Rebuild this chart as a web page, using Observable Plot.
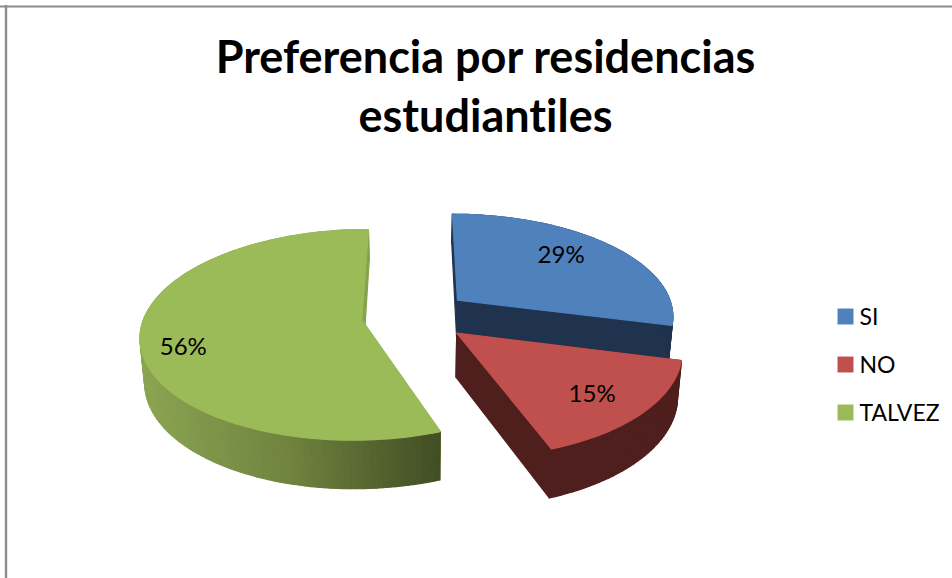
<!DOCTYPE html>
<html><head><meta charset="utf-8">
<script src="https://cdn.jsdelivr.net/npm/d3@7"></script>
<script src="https://cdn.jsdelivr.net/npm/@observablehq/plot@0.6"></script>
<style>html,body{margin:0;padding:0;background:#fff}svg{display:block;font-variant-ligatures:none}</style>
</head><body><div id="chart"></div>
<script>
const categories = ["SI", "NO", "TALVEZ"];
const percentages = [29, 15.4, 55.6];
const topColors = ["#4f81bd", "#c0504d", "#9bbb59"];
const wallColors = ["#1f334e", "#4f1f1e", "#86a24e"];
const titleLines = ["Preferencia por residencias", "estudiantiles"];

// 3D pie view: centre, radii, perspective, explosion
const cx = 415, cy = 315, R = 217, Ry = 102, k = 0.14, explode = 0.25, shrink = 0.017;
const depth = d3.scaleLinear([0.85, 1.02, 1.22], [28, 44, 50]);
const green = d3.scaleLinear([140, 290, 439], ["#8ba552", "#6f823f", "#414d23"]).clamp(true);

const proj = (ex, ey, r, a) => {
  const X = ex + r * Math.sin(a), Y = ey - r * Math.cos(a);
  const p = 1 / (1 - k * Y);
  return {x: cx + R * X * p, y: cy + Ry * Y * p, p};
};
const drop = (q) => ({x: cx + (q.x - cx) * (1 - shrink), y: q.y + depth(q.p)});

const polys = [];
let id = 0;
const add = (pts, color) => {
  id++;
  for (const q of [...pts, pts[0]]) polys.push({id, x: q.x, y: q.y, color});
};
const total = d3.sum(percentages);
let start = 0;
const slices = percentages.map((v, i) => {
  const a0 = start, a1 = start + v / total * 2 * Math.PI;
  start = a1;
  const m = (a0 + a1) / 2;
  return {i, v, a0, a1, m, ex: explode * Math.sin(m), ey: -explode * Math.cos(m)};
});
const drawOrder = [2, 0, 1];
for (const i of drawOrder) {
  const s = slices[i];
  const n = Math.max(4, Math.round((s.a1 - s.a0) / (Math.PI / 120)));
  const angle = j => s.a0 + (s.a1 - s.a0) * j / n;
  const arc = d3.range(n + 1).map(j => proj(s.ex, s.ey, 1, angle(j)));
  const apex = proj(s.ex, s.ey, 0, 0);
  // radial walls
  for (const e of [arc[0], arc[n]]) {
    add([apex, e, drop(e), drop(apex)], wallColors[i]);
  }
  // outer wall, in bands (only the near part of the green wall is shaded)
  for (let j = 0; j < n; j++) {
    const near = i === 2 && angle(j) < 1.6 * Math.PI;
    const c = near ? green((arc[j].x + arc[j + 1].x) / 2) : wallColors[i];
    add([arc[j], arc[j + 1], drop(arc[j + 1]), drop(arc[j])], c);
  }
  // top face
  add([apex, ...arc], topColors[i]);
}

const labelRadius = [0.7, 0.76, 0.8];
const labelNudgeX = [-5, -3, -2];
const labelNudgeY = [-5, 2, 13];
const labels = slices.map(s => {
  const q = proj(s.ex, s.ey, labelRadius[s.i], s.m);
  return {x: q.x + labelNudgeX[s.i], y: q.y + labelNudgeY[s.i], text: Math.round(s.v) + "%"};
});
const legend = categories.map((c, i) => ({name: c, color: topColors[i], y: 316 + 48 * i}));
const titles = titleLines.map((t, i) => ({t, y: 58 + 59 * i}));
const font = "Lato, Carlito, sans-serif";

const chart = Plot.plot({
  width: 952, height: 578, margin: 0,
  x: {domain: [0, 952], range: [0, 952], axis: null},
  y: {domain: [0, 578], range: [0, 578], axis: null},
  color: {type: "identity"},
  style: {background: "#fff", fontFamily: font},
  marks: [
    Plot.ruleY([6], {stroke: "#8c8c8c", strokeWidth: 2}),
    Plot.ruleX([5.5], {y1: 5, y2: 578, stroke: "#8c8c8c", strokeWidth: 2.4}),
    Plot.line(polys, {x: "x", y: "y", z: "id", fill: "color", stroke: "color", strokeWidth: 1.2, strokeLinejoin: "round", curve: "linear"}),
    Plot.text(titles, {x: () => 485, y: "y", text: "t", fontSize: 45, fontWeight: 700, fill: "#000", fontFamily: font}),
    Plot.text(labels, {x: "x", y: "y", text: "text", fontSize: 24, fill: "#000", fontFamily: font}),
    Plot.dot(legend, {x: () => 845, y: "y", r: 9, symbol: "square", fill: "color", stroke: "none"}),
    Plot.text(legend, {x: () => 859, y: d => d.y + 1, text: "name", textAnchor: "start", fontSize: 23, fill: "#000", fontFamily: font})
  ]
});
document.getElementById("chart").append(chart);
</script></body></html>
